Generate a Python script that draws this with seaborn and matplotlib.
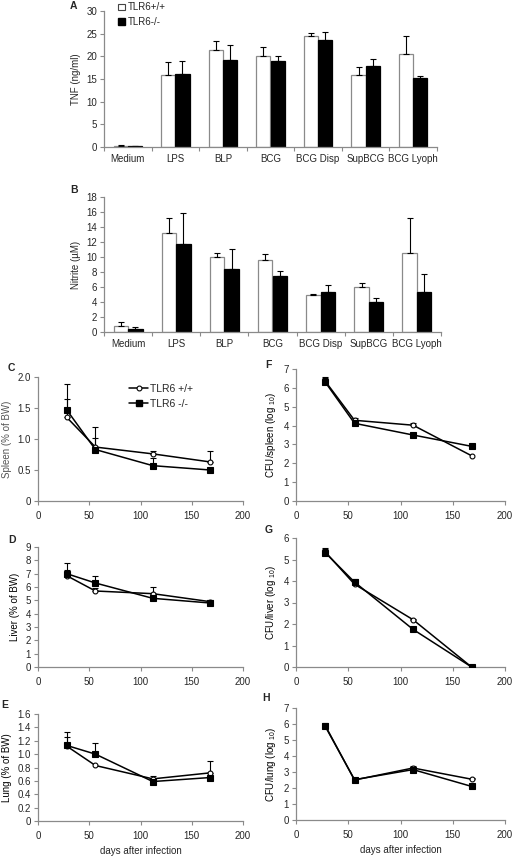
import matplotlib
matplotlib.use("Agg")
import matplotlib.pyplot as plt
from matplotlib.lines import Line2D
from matplotlib.patches import Patch
from matplotlib.ticker import FuncFormatter, FixedLocator
import numpy as np
import pandas as pd
import seaborn as sns

# ---------------------------------------------------------------------------
# Data
# ---------------------------------------------------------------------------
stimuli = ["Medium", "LPS", "BLP", "BCG", "BCG Disp", "SupBCG", "BCG Lyoph"]
genotypes = ["TLR6+/+", "TLR6-/-"]

tnf_wt = [0.25, 15.9, 21.4, 20.0, 24.5, 15.9, 20.6]
tnf_wt_err = [0.1, 2.8, 2.0, 2.0, 0.6, 1.8, 3.9]
tnf_ko = [0.15, 16.0, 19.1, 18.9, 23.7, 17.9, 15.2]
tnf_ko_err = [0.05, 3.0, 3.4, 1.2, 1.7, 1.5, 0.5]

nitrite_wt = [0.85, 13.2, 10.0, 9.6, 5.0, 6.0, 10.5]
nitrite_wt_err = [0.5, 2.0, 0.5, 0.8, 0.1, 0.6, 4.7]
nitrite_ko = [0.4, 11.8, 8.4, 7.5, 5.4, 4.0, 5.4]
nitrite_ko_err = [0.3, 4.1, 2.7, 0.7, 0.9, 0.5, 2.4]

days = [28, 56, 112, 168]

spleen_wt = [1.35, 0.87, 0.76, 0.63]
spleen_wt_err = [0.30, 0.15, 0.05, 0.18]
spleen_ko = [1.47, 0.83, 0.57, 0.50]
spleen_ko_err = [0.42, 0.36, 0.13, 0.0]

liver_wt = [6.85, 5.7, 5.5, 4.9]
liver_wt_err = [0.45, 0.2, 0.5, 0.1]
liver_ko = [7.0, 6.3, 5.15, 4.8]
liver_ko_err = [0.8, 0.5, 0.0, 0.1]

lung_wt = [1.12, 0.83, 0.63, 0.72]
lung_wt_err = [0.14, 0.0, 0.05, 0.17]
lung_ko = [1.13, 1.0, 0.59, 0.65]
lung_ko_err = [0.20, 0.17, 0.0, 0.0]

cfu_spleen_wt = [6.35, 4.28, 4.02, 2.4]
cfu_spleen_wt_err = [0.2, 0.1, 0.13, 0.0]
cfu_spleen_ko = [6.3, 4.12, 3.5, 2.9]
cfu_spleen_ko_err = [0.2, 0.0, 0.0, 0.05]

cfu_liver_wt = [5.35, 3.85, 2.2, 0.0]
cfu_liver_wt_err = [0.2, 0.15, 0.05, 0.0]
cfu_liver_ko = [5.32, 3.95, 1.75, 0.0]
cfu_liver_ko_err = [0.15, 0.12, 0.05, 0.0]

cfu_lung_wt = [5.9, 2.5, 3.25, 2.55]
cfu_lung_wt_err = [0.15, 0.05, 0.15, 0.05]
cfu_lung_ko = [5.85, 2.52, 3.15, 2.1]
cfu_lung_ko_err = [0.1, 0.0, 0.05, 0.05]

# ---------------------------------------------------------------------------
# Style
# ---------------------------------------------------------------------------
sns.set_style("white")
plt.rcParams["font.family"] = ["Liberation Sans", "DejaVu Sans"]
plt.rcParams["mathtext.fontset"] = "custom"
plt.rcParams["mathtext.rm"] = "Liberation Sans"
plt.rcParams["mathtext.it"] = "Liberation Sans"
plt.rcParams["font.size"] = 7

AXIS_GRAY = "#8a8a8a"
FS = 7

W, H = 512, 856
fig = plt.figure(figsize=(W / 100, H / 100), dpi=100)


def px_axes(left, right, top, bottom):
    return fig.add_axes([left / W, 1 - bottom / H, (right - left) / W, (bottom - top) / H])


def excel_axes(ax):
    sns.despine(ax=ax)
    for side in ("left", "bottom"):
        ax.spines[side].set_color(AXIS_GRAY)
        ax.spines[side].set_linewidth(0.9)
    ax.tick_params(axis="both", which="both", direction="out", color=AXIS_GRAY,
                   length=3, width=0.8, labelsize=FS, pad=2, left=True, bottom=True)


def zero_fmt(decimals):
    return FuncFormatter(lambda v, p: "0" if abs(v) < 1e-9 else f"{v:.{decimals}f}")


# ---------------------------------------------------------------------------
# Bar panels (A, B)
# ---------------------------------------------------------------------------
def bar_panel(ax, wt, wt_err, ko, ko_err, ylim, ystep, ylabel):
    df = pd.DataFrame({
        "stimulus": stimuli * 2,
        "genotype": [genotypes[0]] * len(stimuli) + [genotypes[1]] * len(stimuli),
        "value": list(wt) + list(ko),
    })
    sns.barplot(data=df, x="stimulus", y="value", hue="genotype", order=stimuli,
                hue_order=genotypes, palette={genotypes[0]: "white", genotypes[1]: "black"},
                width=0.6, errorbar=None, legend=False, ax=ax, linewidth=0.9)
    for cont, errs, ec in zip(ax.containers, (wt_err, ko_err), (AXIS_GRAY, "black")):
        xs, ys = [], []
        for bar in cont:
            bar.set_edgecolor(ec)
            xs.append(bar.get_x() + bar.get_width() / 2)
            ys.append(bar.get_height())
        ax.errorbar(xs, ys, yerr=[np.zeros(len(errs)), errs], fmt="none",
                    ecolor="black", elinewidth=0.8, capsize=2.5, capthick=0.8, zorder=1)
    excel_axes(ax)
    ax.set_xlim(-0.5, len(stimuli) - 0.5)
    ax.set_ylim(*ylim)
    ax.set_yticks(np.arange(ylim[0], ylim[1] + 0.01, ystep))
    ax.xaxis.set_minor_locator(FixedLocator(np.arange(-0.5, len(stimuli), 1.0)))
    ax.tick_params(axis="x", which="major", length=0, pad=5)
    ax.tick_params(axis="x", which="minor", length=3, color=AXIS_GRAY)
    ax.set_xlabel("")
    ax.set_ylabel(ylabel, fontsize=FS, labelpad=4)


axA = px_axes(104, 437, 11, 147)
bar_panel(axA, tnf_wt, tnf_wt_err, tnf_ko, tnf_ko_err, (0, 30), 5, "TNF (ng/ml)")
axB = px_axes(104, 441, 197, 332)
bar_panel(axB, nitrite_wt, nitrite_wt_err, nitrite_ko, nitrite_ko_err, (0, 18), 2, "Nitrite (µM)")

fig.legend(handles=[Patch(facecolor="white", edgecolor="#444444", linewidth=0.8),
                    Patch(facecolor="black", edgecolor="black")],
           labels=genotypes, loc="upper left", bbox_to_anchor=(112 / W, 1.004),
           frameon=False, fontsize=FS, handlelength=0.7, handleheight=0.7,
           handletextpad=0.3, labelspacing=0.45, borderpad=0.1)

# ---------------------------------------------------------------------------
# Time-course panels (C-H)
# ---------------------------------------------------------------------------
def line_panel(ax, wt, wt_err, ko, ko_err, ylim, ystep, ylabel, decimals=0,
               xlabel=None, ylabel_color="black"):
    for vals, errs, marker, face, size in ((wt, wt_err, "o", "white", 3.5),
                                           (ko, ko_err, "s", "black", 3.8)):
        sns.lineplot(x=days, y=vals, ax=ax, color="black", linewidth=1.1,
                     marker=marker, markersize=size, markerfacecolor=face,
                     markeredgecolor="black", markeredgewidth=0.8, zorder=3)
        e = np.asarray(errs, dtype=float)
        keep = e > 0
        ax.errorbar(np.asarray(days)[keep], np.asarray(vals)[keep],
                    yerr=[np.zeros(keep.sum()), e[keep]], fmt="none", ecolor="black",
                    elinewidth=0.8, capsize=2.5, capthick=0.8, zorder=2)
    excel_axes(ax)
    ax.set_xlim(0, 200)
    ax.set_xticks(range(0, 201, 50))
    ax.set_ylim(*ylim)
    ax.set_yticks(np.arange(ylim[0], ylim[1] + 1e-6, ystep))
    ax.yaxis.set_major_formatter(zero_fmt(decimals))
    ax.tick_params(axis="x", pad=4)
    ax.set_ylabel(ylabel, fontsize=FS, labelpad=4, color=ylabel_color)
    if xlabel:
        ax.set_xlabel(xlabel, fontsize=FS, labelpad=4)


axC = px_axes(38, 243, 377, 501)
line_panel(axC, spleen_wt, spleen_wt_err, spleen_ko, spleen_ko_err, (0, 2.0), 0.5,
           "Spleen (% of BW)", decimals=1, ylabel_color="#555555")
axC.legend(handles=[Line2D([], [], color="black", lw=1.1, marker="o", ms=3.5,
                           markerfacecolor="white", markeredgewidth=0.8),
                    Line2D([], [], color="black", lw=1.1, marker="s", ms=3.8,
                           markerfacecolor="black")],
           labels=["TLR6 +/+", "TLR6 -/-"], loc="upper left",
           bbox_to_anchor=(0.4, 1.02), frameon=False, fontsize=FS + 0.5,
           handlelength=1.8, handletextpad=0.2, labelspacing=0.5)

axD = px_axes(38, 243, 547, 667)
line_panel(axD, liver_wt, liver_wt_err, liver_ko, liver_ko_err, (0, 9), 1,
           "Liver (% of BW)")
axE = px_axes(38, 243, 714, 821)
line_panel(axE, lung_wt, lung_wt_err, lung_ko, lung_ko_err, (0, 1.6), 0.2,
           "Lung (% of BW)", decimals=1, xlabel="days after infection")

axF = px_axes(296, 505, 369, 501)
line_panel(axF, cfu_spleen_wt, cfu_spleen_wt_err, cfu_spleen_ko, cfu_spleen_ko_err,
           (0, 7), 1, r"CFU/spleen (log $_{10}$)")
axG = px_axes(296, 505, 538, 667)
line_panel(axG, cfu_liver_wt, cfu_liver_wt_err, cfu_liver_ko, cfu_liver_ko_err,
           (0, 6), 1, r"CFU/liver (log $_{10}$)")
axH = px_axes(296, 505, 708, 820)
line_panel(axH, cfu_lung_wt, cfu_lung_wt_err, cfu_lung_ko, cfu_lung_ko_err,
           (0, 7), 1, r"CFU/lung (log $_{10}$)", xlabel="days after infection")

# panel letters
for letter, x, y in (("A", 70, 6), ("B", 70, 190), ("C", 8, 368), ("F", 265, 365),
                     ("D", 8, 540), ("G", 265, 530), ("E", 1, 705), ("H", 262, 698)):
    fig.text(x / W, 1 - y / H, letter, fontsize=7.5, fontweight="bold",
             ha="left", va="center")

fig.savefig("out.png", dpi=100)
